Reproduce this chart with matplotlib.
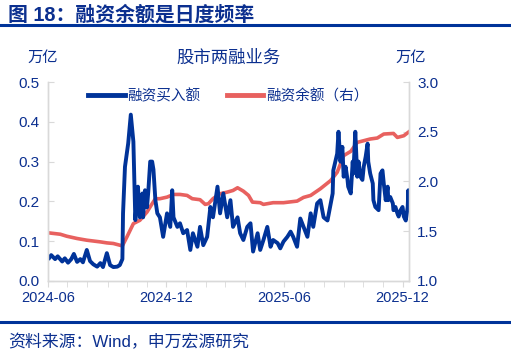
import matplotlib
matplotlib.use("Agg")
import matplotlib.pyplot as plt
import matplotlib.dates as mdates
from matplotlib.lines import Line2D
import pandas as pd

plt.rcParams['font.family'] = ['Liberation Sans', 'Noto Sans CJK SC', 'DejaVu Sans']

# ---- data ----
buy_dates = [
    "2024-06-03", "2024-06-06", "2024-06-12", "2024-06-16", "2024-06-23", "2024-06-27",
    "2024-07-02", "2024-07-07", "2024-07-11", "2024-07-16", "2024-07-21", "2024-07-25",
    "2024-07-31", "2024-08-05", "2024-08-10", "2024-08-16", "2024-08-21", "2024-08-25",
    "2024-08-31", "2024-09-05", "2024-09-10", "2024-09-16", "2024-09-20", "2024-09-24",
    "2024-09-25", "2024-09-28", "2024-10-03", "2024-10-07", "2024-10-11", "2024-10-14",
    "2024-10-17", "2024-10-18", "2024-10-21", "2024-10-25", "2024-10-26", "2024-10-29",
    "2024-11-01", "2024-11-03", "2024-11-06", "2024-11-09", "2024-11-11", "2024-11-14",
    "2024-11-17", "2024-11-21", "2024-11-26", "2024-12-02", "2024-12-07", "2024-12-10",
    "2024-12-12", "2024-12-18", "2024-12-22", "2024-12-27", "2025-01-02", "2025-01-07",
    "2025-01-11", "2025-01-18", "2025-01-22", "2025-01-27", "2025-02-02", "2025-02-07",
    "2025-02-11", "2025-02-18", "2025-02-22", "2025-02-27", "2025-03-05", "2025-03-10",
    "2025-03-14", "2025-03-21", "2025-03-25", "2025-03-30", "2025-04-05", "2025-04-10",
    "2025-04-14", "2025-04-21", "2025-04-25", "2025-04-30", "2025-05-06", "2025-05-11",
    "2025-05-15", "2025-05-22", "2025-05-26", "2025-05-31", "2025-06-06", "2025-06-11",
    "2025-06-15", "2025-06-21", "2025-06-26", "2025-07-01", "2025-07-07", "2025-07-12",
    "2025-07-16", "2025-07-22", "2025-07-27", "2025-08-01", "2025-08-07", "2025-08-12",
    "2025-08-15", "2025-08-16", "2025-08-22", "2025-08-24", "2025-08-27", "2025-08-30",
    "2025-09-01", "2025-09-04", "2025-09-07", "2025-09-08", "2025-09-12", "2025-09-15",
    "2025-09-16", "2025-09-19", "2025-09-22", "2025-09-24", "2025-09-27", "2025-09-30",
    "2025-10-02", "2025-10-05", "2025-10-08", "2025-10-09", "2025-10-12", "2025-10-16",
    "2025-10-17", "2025-10-20", "2025-10-25", "2025-10-28", "2025-10-31", "2025-11-02",
    "2025-11-05", "2025-11-08", "2025-11-09", "2025-11-12", "2025-11-16", "2025-11-17",
    "2025-11-20", "2025-11-23", "2025-11-25", "2025-11-28", "2025-12-01", "2025-12-03",
    "2025-12-06", "2025-12-09", "2025-12-10", "2025-12-11",
]
buy_values = [
    0.058, 0.065, 0.055, 0.062, 0.049, 0.057,
    0.046, 0.055, 0.068, 0.048, 0.055, 0.047,
    0.078, 0.050, 0.042, 0.036, 0.045, 0.035,
    0.070, 0.040, 0.035, 0.036, 0.040, 0.055,
    0.170, 0.287, 0.346, 0.418, 0.350, 0.153,
    0.220, 0.237, 0.160, 0.220, 0.160, 0.228,
    0.185, 0.224, 0.300, 0.300, 0.280, 0.203,
    0.170, 0.160, 0.111, 0.170, 0.136, 0.228,
    0.160, 0.136, 0.145, 0.120, 0.128, 0.078,
    0.120, 0.086, 0.136, 0.090, 0.111, 0.186,
    0.160, 0.237, 0.170, 0.220, 0.160, 0.203,
    0.136, 0.160, 0.120, 0.103, 0.136, 0.145,
    0.074, 0.120, 0.078, 0.103, 0.136, 0.086,
    0.103, 0.095, 0.082, 0.099, 0.111, 0.124,
    0.111, 0.086, 0.157, 0.136, 0.111, 0.170,
    0.136, 0.195, 0.203, 0.160, 0.152, 0.195,
    0.220, 0.278, 0.320, 0.375, 0.300, 0.337,
    0.262, 0.287, 0.254, 0.237, 0.220, 0.300,
    0.270, 0.375, 0.262, 0.300, 0.262, 0.254,
    0.287, 0.312, 0.345, 0.300, 0.270, 0.245,
    0.203, 0.186, 0.178, 0.270, 0.278, 0.245,
    0.203, 0.237, 0.203, 0.211, 0.195, 0.178,
    0.186, 0.170, 0.162, 0.178, 0.186, 0.162,
    0.152, 0.186, 0.228, 0.180,
]

bal_dates = [
    "2024-06-03", "2024-06-20", "2024-06-30", "2024-07-16", "2024-07-31", "2024-08-21",
    "2024-08-31", "2024-09-10", "2024-09-24", "2024-10-01", "2024-10-11", "2024-10-21",
    "2024-11-01", "2024-11-09", "2024-11-14", "2024-11-21", "2024-12-02", "2024-12-12",
    "2024-12-22", "2025-01-02", "2025-01-10", "2025-01-22", "2025-01-30", "2025-02-04",
    "2025-02-11", "2025-02-22", "2025-03-05", "2025-03-14", "2025-03-21", "2025-03-30",
    "2025-04-07", "2025-04-13", "2025-04-25", "2025-04-30", "2025-05-15", "2025-05-31",
    "2025-06-21", "2025-07-01", "2025-07-12", "2025-07-27", "2025-08-12", "2025-08-22",
    "2025-09-01", "2025-09-12", "2025-09-22", "2025-10-02", "2025-10-12", "2025-10-23",
    "2025-11-02", "2025-11-17", "2025-11-23", "2025-12-03", "2025-12-11",
]
bal_values = [
    1.483, 1.470, 1.450, 1.427, 1.410, 1.393,
    1.383, 1.377, 1.353, 1.443, 1.577, 1.610,
    1.693, 1.777, 1.827, 1.827, 1.843, 1.870,
    1.870, 1.860, 1.827, 1.817, 1.770, 1.777,
    1.827, 1.877, 1.893, 1.910, 1.937, 1.903,
    1.860, 1.793, 1.787, 1.770, 1.787, 1.787,
    1.803, 1.840, 1.860, 1.927, 2.010, 2.093,
    2.260, 2.303, 2.393, 2.410, 2.427, 2.437,
    2.477, 2.483, 2.443, 2.460, 2.500,
]

left_ticks = [0.0, 0.1, 0.2, 0.3, 0.4, 0.5]
right_ticks = [1.0, 1.5, 2.0, 2.5, 3.0]
x_tick_labels = ["2024-06", "2024-12", "2025-06", "2025-12"]

# ---- style ----
NAVY = '#0B2F8F'
BLUE = '#003399'
RED = '#E8615F'
GREY = '#D9D9D9'

fig = plt.figure(figsize=(5.11, 3.57), dpi=100)
ax = fig.add_axes([0.0939, 0.2129, 0.7065, 0.5574])
ax2 = ax.twinx()

bd = pd.to_datetime(buy_dates)
rd = pd.to_datetime(bal_dates)
l1, = ax.plot(bd, buy_values, color=BLUE, lw=2.8, solid_joinstyle='round')
l2, = ax2.plot(rd, bal_values, color=RED, lw=2.6, solid_joinstyle='round')
ax.set_zorder(ax2.get_zorder() + 1)
ax.patch.set_visible(False)

ax.set_ylim(0, 0.5)
ax2.set_ylim(1.0, 3.0)
ax.set_xlim(pd.Timestamp("2024-06-01"), pd.Timestamp("2025-12-11"))

ax.set_yticks(left_ticks)
ax.set_yticklabels([f"{v:.1f}" for v in left_ticks])
ax2.set_yticks(right_ticks)
ax2.set_yticklabels([f"{v:.1f}" for v in right_ticks])

ax.xaxis.set_major_locator(mdates.MonthLocator(bymonth=[6, 12]))
ax.xaxis.set_major_formatter(mdates.DateFormatter("%Y-%m"))
ax.xaxis.set_minor_locator(mdates.MonthLocator())

for a in (ax, ax2):
    for s in a.spines.values():
        s.set_color(GREY)
        s.set_linewidth(1.0)
    a.spines['top'].set_visible(False)

ax.tick_params(axis='y', direction='in', length=4, color=GREY, labelsize=11, labelcolor=NAVY, pad=6)
ax2.tick_params(axis='y', direction='in', length=4, color=GREY, labelsize=11, labelcolor=NAVY, pad=6)
ax.tick_params(axis='x', which='both', direction='out', length=4, color=GREY, labelsize=10.5, labelcolor=NAVY, pad=3)

leg = ax.legend([l1, l2], ["融资买入额", "融资余额（右）"], loc='center', bbox_to_anchor=(0.5, 0.93),
                ncol=2, frameon=False, fontsize=10.5, handlelength=2.5, handletextpad=0.2,
                columnspacing=1.8, labelcolor=NAVY, borderaxespad=0)
for h in leg.get_lines():
    h.set_linewidth(3.5)

# ---- texts ----
fig.text(0.016, 0.958, "图 18：融资余额是日度频率", fontsize=14.3, fontweight='bold', color=NAVY,
         ha='left', va='center', family=['Liberation Sans', 'Noto Sans CJK SC'])
fig.add_artist(Line2D([0, 1], [0.930, 0.930], color=BLUE, lw=2.2, transform=fig.transFigure))
fig.add_artist(Line2D([0, 1], [0.098, 0.098], color=BLUE, lw=2.2, transform=fig.transFigure))
fig.text(0.016, 0.042, "资料来源：Wind，申万宏源研究", fontsize=12.2, color=NAVY, ha='left', va='center')

fig.text(0.448, 0.838, "股市两融业务", fontsize=12.5, color=NAVY, ha='center', va='center')
fig.text(0.084, 0.838, "万亿", fontsize=11, color=NAVY, ha='center', va='center')
fig.text(0.804, 0.838, "万亿", fontsize=11, color=NAVY, ha='center', va='center')

fig.savefig("out.png", dpi=100)
